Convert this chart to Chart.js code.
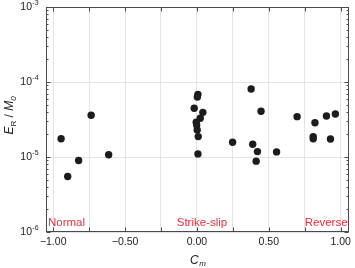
<!DOCTYPE html>
<html><head><meta charset="utf-8">
<script src="https://cdn.jsdelivr.net/npm/chart.js@4"></script>
<style>html,body{margin:0;padding:0;background:#fff;}canvas{display:block}</style>
</head><body>
<canvas id="c" width="355" height="268"></canvas>
<script>
// Data
const cmValues = [-0.945, -0.899, -0.823, -0.736, -0.614,
  0.007, 0.003, -0.019, 0.041, 0.023, -0.005, -0.002, 0.002, 0.009, 0.007,
  0.377, 0.446, 0.248, 0.388, 0.421, 0.554, 0.412,
  0.697, 0.821, 0.901, 0.963, 0.809, 0.809, 0.929];
const erM0Values = [1.75e-5, 5.5e-6, 9.0e-6, 3.6e-5, 1.07e-5,
  6.8e-5, 6.3e-5, 4.46e-5, 3.94e-5, 3.28e-5, 2.9e-5, 2.67e-5, 2.29e-5, 1.87e-5, 1.1e-5,
  8.07e-5, 4.07e-5, 1.57e-5, 1.48e-5, 1.18e-5, 1.17e-5, 8.8e-6,
  3.45e-5, 2.86e-5, 3.52e-5, 3.75e-5, 1.87e-5, 1.75e-5, 1.74e-5];
const xGridValues = [-1, -0.75, -0.5, -0.25, 0, 0.25, 0.5, 0.75, 1];
const xTickValues = [-1, -0.5, 0, 0.5, 1];
const xTickLabels = ['\u22121.00', '\u22120.50', '0.00', '0.50', '1.00'];
const yDecadeValues = [1e-6, 1e-5, 1e-4, 1e-3];
const yDecadeExponents = ['-6', '-5', '-4', '-3'];
const faultTypes = ['Normal', 'Strike-slip', 'Reverse'];

const FONT = '"Liberation Sans", Arial, Helvetica, sans-serif';
const isDecade = v => Math.abs(Math.log10(v) - Math.round(Math.log10(v))) < 1e-6;

const yMinorTicks = [];
for (let i = 0; i < yDecadeValues.length - 1; i++) {
  for (let m = 1; m <= 9; m++) yMinorTicks.push(yDecadeValues[i] * m);
}
yMinorTicks.push(yDecadeValues[yDecadeValues.length - 1]);

const decor = {
  id: 'decor',
  beforeDatasetsDraw(chart) {
    const {ctx, chartArea: a, scales: {x, y}} = chart;
    ctx.save();
    ctx.strokeStyle = '#4a4a4a';
    ctx.lineWidth = 1;
    const L = Math.round(a.left) + 0.5, R = Math.round(a.right) - 0.5;
    const T = Math.round(a.top) + 0.5, B = Math.round(a.bottom) - 0.5;
    ctx.beginPath();
    x.ticks.forEach(t => {
      const p = Math.round(x.getPixelForValue(t.value)) + 0.5;
      ctx.moveTo(p, B); ctx.lineTo(p, B - 4);
      ctx.moveTo(p, T); ctx.lineTo(p, T + 4);
    });
    y.ticks.forEach(t => {
      const p = Math.round(y.getPixelForValue(t.value)) + 0.5;
      const len = isDecade(t.value) ? 4 : 2;
      ctx.moveTo(L, p); ctx.lineTo(L + len, p);
      ctx.moveTo(R, p); ctx.lineTo(R - len, p);
    });
    ctx.stroke();
    ctx.strokeRect(L, T, R - L, B - T);
    ctx.restore();
  },
  afterDraw(chart) {
    const {ctx, chartArea: a, scales: {x, y}} = chart;
    ctx.save();
    ctx.fillStyle = '#222';
    // y decade labels with superscripts
    yDecadeValues.forEach((v, i) => {
      const py = y.getPixelForValue(v);
      ctx.font = '10.5px ' + FONT;
      ctx.textAlign = 'right'; ctx.textBaseline = 'middle';
      ctx.fillText('10', 32, py);
      ctx.font = '7px ' + FONT;
      ctx.textAlign = 'left';
      ctx.fillText(yDecadeExponents[i], 32.3, py - 3.5);
    });
    // x title C_m
    ctx.textBaseline = 'alphabetic'; ctx.textAlign = 'left';
    ctx.font = 'italic 12px ' + FONT;
    const wC = ctx.measureText('C').width;
    ctx.font = 'italic 8px ' + FONT;
    const wm = ctx.measureText('m').width;
    const cx = x.getPixelForValue(0) + 1;
    let sx = cx - (wC + wm + 0.5) / 2;
    ctx.font = 'italic 12px ' + FONT;
    ctx.fillText('C', sx, 263.5);
    ctx.font = 'italic 8px ' + FONT;
    ctx.fillText('m', sx + wC + 0.5, 266);
    // y title E_R / M_0
    ctx.save();
    ctx.translate(13, (a.top + a.bottom) / 2 - 4);
    ctx.rotate(-Math.PI / 2);
    const parts = [
      ['E', 'italic 12px ', 0], ['R', '8px ', 3], [' / ', '12px ', 0], ['M', 'italic 12px ', 0], ['0', 'italic 8px ', 3]
    ];
    let tot = 0;
    parts.forEach(p => { ctx.font = p[1] + FONT; p.push(ctx.measureText(p[0]).width); tot += p[3]; });
    let px = -tot / 2;
    parts.forEach(p => { ctx.font = p[1] + FONT; ctx.fillText(p[0], px, p[2]); px += p[3]; });
    ctx.restore();
    // fault type labels
    ctx.fillStyle = '#e5303f';
    ctx.font = '11.5px ' + FONT;
    ctx.textBaseline = 'middle';
    const ly = a.bottom - 9.5;
    ctx.textAlign = 'left'; ctx.fillText(faultTypes[0], a.left + 2, ly);
    ctx.textAlign = 'center'; ctx.fillText(faultTypes[1], x.getPixelForValue(0.035), ly);
    ctx.textAlign = 'right'; ctx.fillText(faultTypes[2], a.right - 1, ly);
    ctx.restore();
  }
};

new Chart(document.getElementById('c'), {
  type: 'scatter',
  data: {
    datasets: [{
      data: cmValues.map((v, i) => ({x: v, y: erM0Values[i]})),
      backgroundColor: '#1c1c1c',
      borderWidth: 0,
      pointRadius: 3.7,
      pointHoverRadius: 3.7
    }]
  },
  options: {
    responsive: false,
    animation: false,
    layout: {padding: {top: 7, right: 4, left: 0, bottom: 0}},
    plugins: {legend: {display: false}, tooltip: {enabled: false}},
    scales: {
      x: {
        type: 'linear', min: -1.05, max: 1.055,
        afterBuildTicks: s => { s.ticks = xGridValues.map(v => ({value: v})); },
        afterFit: s => { s.height = 36; },
        ticks: {
          autoSkip: false, maxRotation: 0, padding: 4,
          color: '#222', font: {family: FONT, size: 10.5},
          callback: v => {
            const i = xTickValues.findIndex(t => Math.abs(t - v) < 1e-9);
            return i >= 0 ? xTickLabels[i] : '';
          }
        },
        grid: {color: '#e4e4e4', lineWidth: 1, drawTicks: false},
        border: {display: false}
      },
      y: {
        type: 'logarithmic', min: 1e-6, max: 1e-3,
        afterBuildTicks: s => { s.ticks = yMinorTicks.map(v => ({value: v})); },
        afterFit: s => { s.width = 46; },
        ticks: {display: false},
        grid: {
          color: c => (c.tick && isDecade(c.tick.value)) ? '#e4e4e4' : 'rgba(0,0,0,0)',
          lineWidth: 1, drawTicks: false
        },
        border: {display: false}
      }
    }
  },
  plugins: [decor]
});
</script>
</body></html>
